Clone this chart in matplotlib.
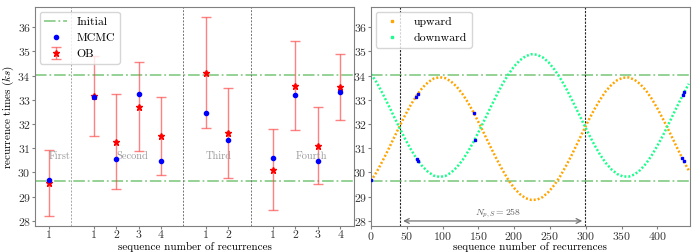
import numpy as np
import matplotlib.pyplot as plt
from matplotlib.lines import Line2D

plt.rcParams['font.family'] = 'serif'
plt.rcParams['font.serif'] = ['cmr10', 'DejaVu Serif']
plt.rcParams['mathtext.fontset'] = 'cm'
plt.rcParams['axes.formatter.use_mathtext'] = True
plt.rcParams['font.size'] = 8.5

# ---------------- left panel data: OB vs MCMC per recurrence ----------------
seq_pos = [0, 2, 3, 4, 5, 7, 8, 10, 11, 12, 13]
seq_labels = ['1', '1', '2', '3', '4', '1', '2', '1', '2', '3', '4']
ob_vals = [29.55, 33.16, 31.27, 32.72, 31.52, 34.12, 31.63, 30.10, 33.58, 31.10, 33.54]
ob_err = [1.37, 1.66, 1.95, 1.82, 1.61, 2.28, 1.85, 1.67, 1.85, 1.59, 1.37]
mcmc_vals = [29.67, 33.13, 30.55, 33.23, 30.48, 32.44, 31.34, 30.58, 33.21, 30.47, 33.32]
initial_vals = [34.03, 29.65]
group_sep = [1, 6, 9]
group_names = ['First', 'Second', 'Third', 'Fourth']
group_text_x = [0, 3, 7, 11]

# ---------------- right panel data: model recurrence sequence ----------------
mcmc_n = [0, 63, 64, 65, 66, 144, 145, 435, 436, 437, 438]
n_grid = [0, 8, 16, 24, 32, 40, 48, 56, 64, 72, 80, 88, 96, 104, 112, 120, 128,
          136, 144, 152, 160, 168, 176, 184, 192, 200, 208, 216, 224, 232, 240,
          248, 256, 264, 272, 280, 288, 296, 304, 312, 320, 328, 336, 344, 352,
          360, 368, 376, 384, 392, 400, 408, 416, 424, 432, 440, 444]
upward = [29.64, 30.02, 30.46, 30.93, 31.42, 31.91, 32.38, 32.81, 33.19, 33.50,
          33.73, 33.88, 33.93, 33.89, 33.75, 33.53, 33.23, 32.86, 32.43, 31.97,
          31.48, 30.99, 30.52, 30.08, 29.68, 29.35, 29.10, 28.93, 28.86, 28.87,
          28.98, 29.19, 29.47, 29.82, 30.24, 30.69, 31.18, 31.67, 32.15, 32.60,
          33.00, 33.35, 33.62, 33.81, 33.91, 33.92, 33.83, 33.65, 33.39, 33.05,
          32.65, 32.20, 31.73, 31.24, 30.75, 30.29, 30.08]
downward = [34.06, 33.71, 33.27, 32.80, 32.31, 31.83, 31.36, 30.93, 30.55, 30.24,
            30.01, 29.86, 29.81, 29.85, 29.99, 30.21, 30.51, 30.88, 31.30, 31.77,
            32.25, 32.74, 33.22, 33.66, 34.05, 34.38, 34.63, 34.80, 34.88, 34.86,
            34.75, 34.55, 34.26, 33.91, 33.50, 33.04, 32.56, 32.07, 31.59, 31.14,
            30.73, 30.39, 30.12, 29.93, 29.83, 29.82, 29.91, 30.09, 30.35, 30.69,
            31.09, 31.53, 32.01, 32.50, 32.98, 33.44, 33.66]
ps_lines = [41, 299]
ps_label = '$N_{p,S}=258$'

ylims = (27.78, 36.83)
yticks = [28, 29, 30, 31, 32, 33, 34, 35, 36]
init_style = dict(color='#5cb85c', ls='-.', lw=1.3, alpha=0.7)
lab_fs = 8

fig = plt.figure(figsize=(7, 2.52), dpi=100)
ax1 = fig.add_axes([0.05, 0.103, 0.456, 0.869])
ax2 = fig.add_axes([0.53, 0.103, 0.455, 0.869])

# ------ left ------
for i, v in enumerate(initial_vals):
    ax1.axhline(v, label='Initial' if i == 0 else None, **init_style)
for i, x in enumerate(group_sep):
    ax1.axvline(x, color='0.65' if i == 0 else '0.45', ls='--', lw=0.7, dashes=(2, 1.5))
ax1.plot(seq_pos, mcmc_vals, 'o', color='blue', ms=3, label='MCMC', zorder=4)
ax1.errorbar(seq_pos, ob_vals, yerr=ob_err, fmt='*', color='red', ms=5,
             ecolor=(1, 0.25, 0.25, 0.65), elinewidth=1, capsize=3.5, label='OB', zorder=3)
for name, x in zip(group_names, group_text_x):
    ax1.text(x, 30.65, name, color='0.6', fontsize=7.5, va='center', ha='left')
ax1.set_xticks(seq_pos)
ax1.set_xticklabels(seq_labels)
ax1.set_xlim(-0.62, 13.62)
ax1.set_ylim(*ylims)
ax1.set_yticks(yticks)
ax1.set_xlabel('sequence number of recurrences', fontsize=lab_fs)
ax1.set_ylabel('recurrence times ($ks$)', labelpad=1, fontsize=lab_fs)
ax1.legend(loc='upper left', fontsize=8.5, handlelength=1.9, borderaxespad=0.4)

# ------ right ------
for v in initial_vals:
    ax2.axhline(v, **init_style)
for x in ps_lines:
    ax2.axvline(x, color='0.15', ls='--', lw=0.8, dashes=(2, 1.2))
ax2.plot(n_grid, upward, color='orange', lw=1.8, ls=(0, (0.8, 0.8)))
ax2.plot(n_grid, downward, color='#1aff8c', lw=1.8, ls=(0, (0.8, 0.8)))
# blue MCMC points on the sequence
ax2.plot(mcmc_n, mcmc_vals, 's', color='blue', ms=2, zorder=4)
ax2.annotate('', xy=(ps_lines[0], 27.99), xytext=(ps_lines[1], 27.99),
             arrowprops=dict(arrowstyle='<->', color='0.45', lw=0.9))
ax2.text(178, 28.05, ps_label, color='0.35', fontsize=7, ha='center', va='bottom')
ax2.set_xlim(0, 445)
ax2.set_ylim(*ylims)
ax2.set_yticks(yticks)
ax2.set_xticks(np.arange(0, 401, 50))
ax2.set_xlabel('sequence number of recurrences', fontsize=lab_fs)
handles = [Line2D([], [], ls='', marker='s', ms=2, color='orange'),
           Line2D([], [], ls='', marker='s', ms=2, color='#1aff8c')]
ax2.legend(handles, ['upward', 'downward'], loc='upper left', fontsize=8.5,
           borderaxespad=0.4)

for ax in (ax1, ax2):
    for s in ax.spines.values():
        s.set_color('0.5')
    ax.tick_params(color='0.5', labelcolor='0.2', length=2, pad=1)
    ax.xaxis.set_label_coords(0.5, -0.075)

fig.savefig('out.png', dpi=100)
